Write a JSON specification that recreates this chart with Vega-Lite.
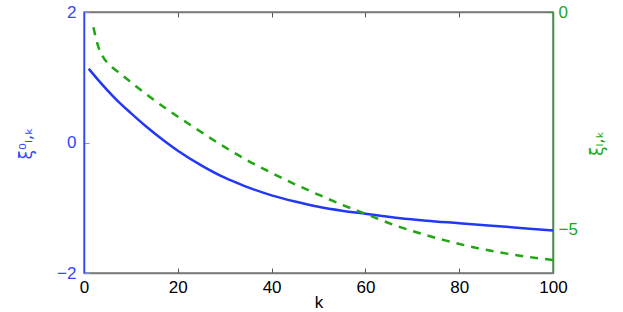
{
  "$schema": "https://vega.github.io/schema/vega-lite/v6.json",
  "width": 469,
  "height": 261,
  "autosize": {"type": "none"},
  "padding": {"left": 84, "top": 12, "right": 70, "bottom": 39},
  "background": "white",
  "config": {
    "view": {"stroke": "#7a7a7a", "strokeWidth": 1.5},
    "font": "Liberation Sans",
    "axis": {"labelFont": "Liberation Sans", "titleFont": "DejaVu Sans", "labelFontSize": 17, "grid": false, "domainWidth": 1.5, "tickSize": -5, "tickWidth": 1, "labelFlush": false}
  },
  "datasets": {
    "blue": [
      {"k": 1, "v": 1.13}, {"k": 3, "v": 0.96}, {"k": 5, "v": 0.8}, {"k": 7, "v": 0.65},
      {"k": 10, "v": 0.45}, {"k": 13, "v": 0.26}, {"k": 17, "v": 0.03}, {"k": 20, "v": -0.126},
      {"k": 25, "v": -0.35}, {"k": 30, "v": -0.54}, {"k": 34, "v": -0.66}, {"k": 40, "v": -0.81},
      {"k": 45, "v": -0.905}, {"k": 50, "v": -0.985}, {"k": 55, "v": -1.045}, {"k": 60, "v": -1.092},
      {"k": 67, "v": -1.156}, {"k": 73, "v": -1.198}, {"k": 80, "v": -1.236}, {"k": 90, "v": -1.292},
      {"k": 100, "v": -1.348}
    ],
    "green": [
      {"k": 2, "v": -0.35}, {"k": 3, "v": -0.78}, {"k": 4, "v": -1.02}, {"k": 5, "v": -1.17},
      {"k": 6, "v": -1.27}, {"k": 8, "v": -1.44}, {"k": 11, "v": -1.7}, {"k": 14, "v": -1.95},
      {"k": 18, "v": -2.26}, {"k": 23, "v": -2.62}, {"k": 28, "v": -2.97}, {"k": 34, "v": -3.36},
      {"k": 40, "v": -3.7}, {"k": 45, "v": -3.96}, {"k": 50, "v": -4.2}, {"k": 55, "v": -4.43},
      {"k": 60, "v": -4.64}, {"k": 67, "v": -4.93}, {"k": 72, "v": -5.1}, {"k": 77, "v": -5.25},
      {"k": 84, "v": -5.43}, {"k": 91, "v": -5.57}, {"k": 100, "v": -5.7}
    ]
  },
  "layer": [
    {
      "data": {"name": "blue"},
      "mark": {"type": "line", "color": "#2238f5", "strokeWidth": 2.5, "interpolate": "monotone"},
      "encoding": {
        "x": {"field": "k", "type": "quantitative", "scale": {"domain": [0, 100], "nice": false},
          "axis": {"orient": "bottom", "values": [0, 20, 40, 60, 80, 100], "title": "k", "titleFontSize": 17, "titleFont": "Liberation Sans", "titleFontWeight": "normal", "titleColor": "black", "titleY": 29, "titleBaseline": "middle", "labelColor": "black", "labelPadding": 11, "domainColor": "#7a7a7a", "tickColor": "#555555"}},
        "y": {"field": "v", "type": "quantitative", "scale": {"domain": [-2, 2], "nice": false},
          "axis": {"orient": "left", "values": [-2, 0, 2], "labelExpr": "replace(datum.label, '-', '−')", "title": "ξ⁰ₗ,ₖ", "titleFontSize": 17, "titleFontWeight": "normal", "titleColor": "#3348f5", "titleAngle": -90, "titleX": -58, "titleY": 131, "titleAlign": "center", "titleBaseline": "middle", "labelColor": "#3348f5", "labelPadding": 13, "domainColor": "#3348f5", "tickColor": "#8090ff"}}
      }
    },
    {
      "data": {"name": "green"},
      "mark": {"type": "line", "color": "#1fa612", "strokeWidth": 2.5, "strokeDash": [8, 7], "interpolate": "monotone"},
      "encoding": {
        "x": {"field": "k", "type": "quantitative", "scale": {"domain": [0, 100], "nice": false},
          "axis": {"orient": "top", "values": [0, 20, 40, 60, 80, 100], "labels": false, "title": null, "domainColor": "#7a7a7a", "tickColor": "#555555"}},
        "y": {"field": "v", "type": "quantitative", "scale": {"domain": [-6, 0], "nice": false},
          "axis": {"orient": "right", "values": [-5, 0], "labelExpr": "replace(datum.label, '-', '−')", "title": "ξₗ,ₖ", "titleFontSize": 17, "titleFontWeight": "normal", "titleColor": "#22a622", "titleAngle": -90, "titleX": 44, "titleY": 131, "titleAlign": "center", "titleBaseline": "middle", "labelColor": "#22a622", "labelPadding": 10, "domainColor": "#22a622", "tickColor": "#22a622"}}
      }
    }
  ],
  "resolve": {"scale": {"y": "independent"}, "axis": {"x": "independent"}}
}
